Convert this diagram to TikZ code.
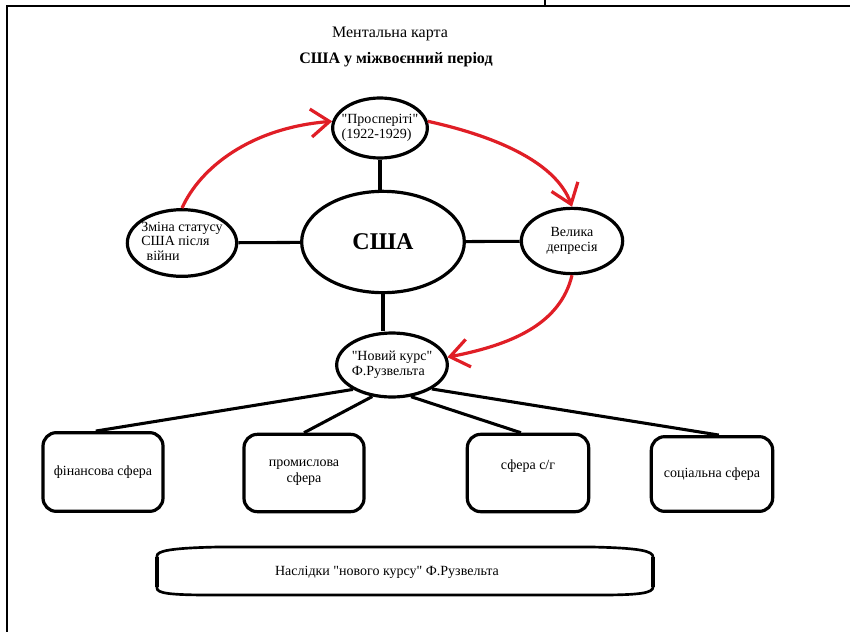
\documentclass[tikz,border=0pt]{standalone}
\usepackage{fontspec}
\setmainfont{Liberation Serif}
\usepackage{tikz}
\usepackage{xcolor}
\usetikzlibrary{calc, arrows.meta, shapes.geometric}

\definecolor{arrowred}{RGB}{224,30,38}
\newcommand{\ovaltext}[2][c]{\makebox[0pt]{\begin{tabular}{@{}#1@{}}#2\end{tabular}}}
\newcommand{\qq}{\textquotedbl}

\begin{document}
\begin{tikzpicture}[x=0.75pt, y=-0.75pt,
    oval/.style={draw, ellipse, line width=2.4pt, inner sep=0pt, font=\fontsize{10.5}{11}\selectfont},
    sphere/.style={draw, rounded corners=10pt, line width=2.4pt, minimum width=90pt, minimum height=58pt, align=center, font=\fontsize{10.5}{12}\selectfont},
    link/.style={line width=2.3pt},
    redarrow/.style={arrowred, line width=2.4pt, -{Straight Barb[length=14pt, width=21pt, line width=2.4pt]}}]
    \useasboundingbox (0,0) rectangle (850,632);

    \coordinate (T1) at (6,6);
    \coordinate (T2) at (850,6);
    \coordinate (L1) at (7,6);
    \coordinate (L2) at (7,632);
    \coordinate (K1) at (545,0);
    \coordinate (K2) at (545,6);

    \draw[line width=2.2pt] (T1) -- (T2);
    \draw[line width=1.3pt] (L1) -- (L2);
    \draw[line width=1pt] (K1) -- (K2);

    \node[font=\fontsize{12}{14}\selectfont] (title) at (390,34) {Ментальна карта};
    \node[font=\bfseries\fontsize{12}{14}\selectfont] (subtitle) at (396,60) {США у міжвоєнний період};

    \node[oval, minimum width=71pt, minimum height=45pt] (pros) at (380,128) {\ovaltext[l]{\qq Просперіті\qq\\(1922-1929)}};
    \node[oval, minimum width=122pt, minimum height=76pt, font=\bfseries\fontsize{18}{20}\selectfont] (usa) at (383,242) {США};
    \node[oval, minimum width=82pt, minimum height=50pt] (status) at (182,243) {\ovaltext[l]{Зміна статусу\\США після\\\hspace{4pt}війни}};
    \node[oval, minimum width=76pt, minimum height=49pt] (depr) at (572,241) {\ovaltext{Велика\\депресія}};
    \node[oval, minimum width=83pt, minimum height=48pt] (deal) at (392,365) {\ovaltext[l]{\qq Новий курс\qq\\Ф.Рузвельта}};

    \draw[link] (pros) -- (pros |- usa.north);
    \draw[link] (status) -- (usa);
    \draw[link] (usa) -- (depr);
    \draw[link] (usa.south) -- (usa.south |- deal.north);

    \node[sphere, minimum width=90pt, minimum height=59pt] (b1) at (103,472) {фінансова сфера};
    \node[sphere, minimum width=90pt, minimum height=58pt] (b2) at (304,473) {промислова\\сфера};
    \node[sphere, minimum width=91pt, minimum height=58pt] (b3) at (528,473) {\raisebox{12pt}{сфера с/г}};
    \node[sphere, minimum width=91pt, minimum height=56pt] (b4) at (712,474) {соціальна сфера};

    \draw[link] (deal.212) -- (b1.100);
    \draw[link] (deal.238) -- (b2.north);
    \draw[link] (deal.301) -- (b3.100);
    \draw[link] (deal.329) -- (b4.80);

    \draw[redarrow] (status.north) .. controls (200,168) and (250,128) .. (pros.172);
    \draw[redarrow] (pros.8) .. controls (490,135) and (555,160) .. (depr.north);
    \draw[redarrow] (depr.south) .. controls (560,325) and (510,345) .. (deal.8);

    \node[font=\fontsize{10.5}{12}\selectfont] (res) at (387,572) {Наслідки \qq нового курсу\qq{} Ф.Рузвельта};
    \draw[line width=2pt] (218,547) -- (592,547) .. controls (640,548) and (653,551) .. (653,557) -- (653,587) .. controls (653,593) and (640,595) .. (600,595) -- (210,595) .. controls (168,595) and (157,593) .. (157,588) -- (157,556) .. controls (157,551) and (170,548) .. (218,547) -- cycle;
    \draw[line width=3.5pt] (157,557) -- (157,587);
    \draw[line width=3.5pt] (653,557) -- (653,587);
\end{tikzpicture}
\end{document}
